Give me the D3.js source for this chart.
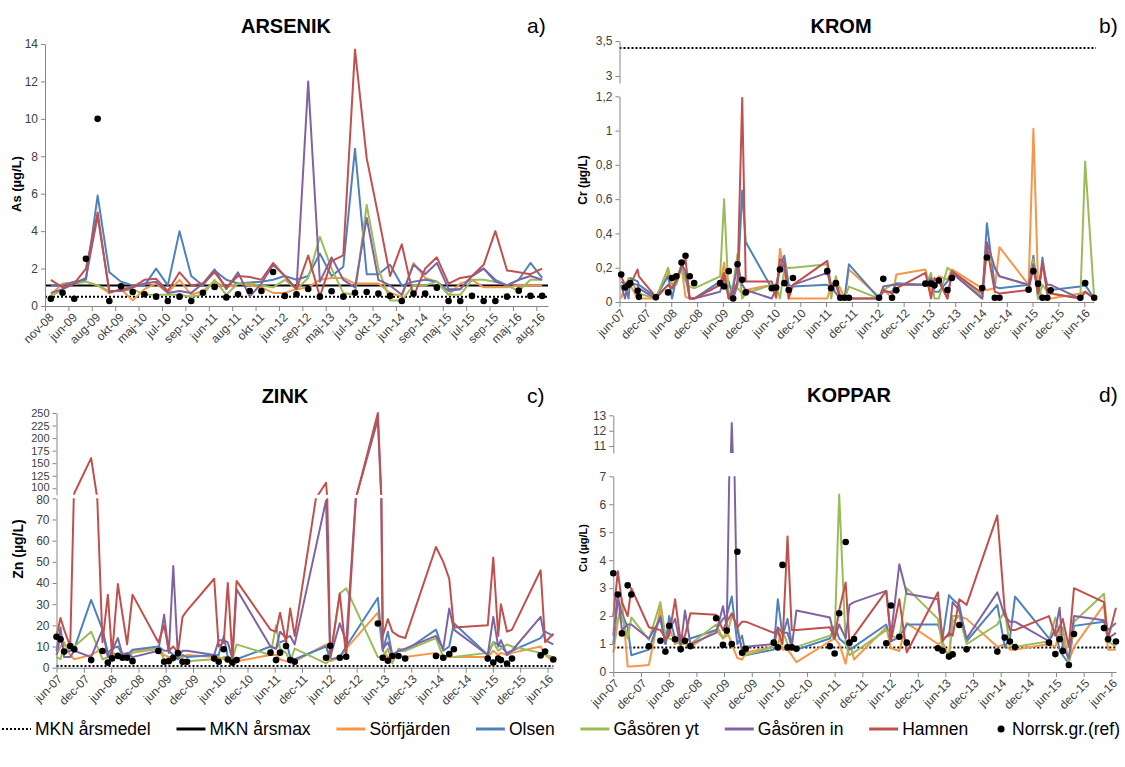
<!DOCTYPE html>
<html>
<head>
<meta charset="utf-8">
<script src="https://cdn.jsdelivr.net/npm/d3@7"></script>
<style>
  body { margin: 0; background: #fff; }
  text { font-family: 'Liberation Sans Narrow', 'Liberation Sans', Arial, sans-serif; }
</style>
</head>
<body>
<svg id="chart" width="1125" height="767"></svg>
<script>
// ---- shared ----
var seriesNames = ["Sörfjärden", "Olsen", "Gåsören yt", "Gåsören in", "Hamnen"];
var seriesColors = ["#F79646", "#4F81BD", "#9BBB59", "#8064A2", "#C0504D"];
var refName = "Norrsk.gr.(ref)";
var mknNames = ["MKN årsmedel", "MKN årsmax"];
var monthNames = ["jan", "feb", "mar", "apr", "maj", "jun", "jul", "aug", "sep", "okt", "nov", "dec"];

// ---- a) ARSENIK (category axis) ----
var asLabels = ["nov-08", "jun-09", "aug-09", "okt-09", "maj-10", "jul-10", "sep-10", "jun-11", "aug-11", "okt-11", "jun-12",
  "sep-12", "maj-13", "jul-13", "okt-13", "jun-14", "sep-14", "maj-15", "jul-15", "sep-15", "maj-16", "aug-16"];
var asSorfjarden = [0.6, 1.2, 1.25, 1.3, 1.1, 0.7, 0.9, 0.3, 0.9, 1.2, 0.7, 1.4, 0.6, 0.8, 1.3, 1.0, 1.2, 1.1, 1.0, 0.7, 0.7, 0.9,
  1.0, 1.4, 1.5, 1.5, 1.2, 1.2, 1.2, 0.7, 0.5, 2.3, 1.5, 1.3, 0.6, 1.2, 1.4, 1.0, 1.0, 1.0, 1.1, 1.1, 1.1];
var asOlsen = [1.1, 1.1, 1.3, 1.4, 5.9, 1.8, 1.3, 1.1, 1.1, 2.0, 1.1, 4.0, 1.6, 1.1, 1.9, 1.4, 1.2, 1.25, 1.3, 1.4, 1.6, 1.4,
  1.6, 2.8, 1.6, 2.1, 8.4, 1.7, 1.7, 2.2, 1.1, 1.3, 1.4, 1.3, 0.8, 0.9, 1.6, 2.0, 1.4, 1.1, 1.4, 2.3, 1.5];
var asGasorenYt = [0.5, 0.9, 1.2, 1.3, 1.1, 0.8, 0.8, 0.9, 0.6, 0.6, 0.6, 0.6, 0.5, 0.6, 1.4, 0.6, 1.2, 1.2, 1.1, 1.0, 1.4, 0.9,
  1.5, 3.7, 2.0, 0.7, 0.6, 5.4, 2.0, 0.3, 0.3, 1.1, 1.1, 1.3, 0.6, 0.6, 1.4, 1.4, 1.3, 1.1, 0.8, 1.4, 1.4];
var asGasorenIn = [0.7, 0.9, 1.2, 1.5, 4.8, 0.8, 0.8, 1.0, 1.2, 1.3, 0.7, 0.8, 0.7, 1.2, 1.95, 0.9, 1.8, 0.5, 1.2, 2.2, 1.6, 0.9,
  12.0, 1.3, 2.6, 1.4, 1.0, 4.7, 1.4, 1.1, 0.6, 2.2, 1.7, 2.3, 0.9, 0.9, 1.6, 2.0, 1.3, 1.1, 1.4, 1.6, 1.4];
var asHamnen = [1.4, 1.0, 1.2, 2.0, 5.0, 0.7, 0.9, 1.0, 1.4, 1.45, 0.8, 1.8, 1.1, 1.2, 1.8, 1.0, 1.6, 1.55, 1.4, 2.3, 1.6, 0.9,
  2.7, 0.5, 2.4, 2.7, 13.7, 7.9, 4.8, 1.6, 3.3, 0.5, 2.0, 2.6, 1.2, 1.5, 1.6, 2.2, 4.0, 1.9, 1.8, 1.7, 2.0];
var asNorrsk = [0.39, 0.71, 0.39, 2.52, 10.0, 0.27, 1.05, 0.75, 0.63, 0.5, 0.27, 0.5, 0.27, 0.71, 1.02, 0.46, 0.63, 0.8, 0.8, 1.82,
  0.54, 0.63, 0.91, 0.5, 0.79, 0.5, 0.71, 0.75, 0.66, 0.54, 0.27, 0.66, 0.66, 0.98, 0.27, 0.27, 0.54, 0.27, 0.27, 0.5, 0.82, 0.54, 0.54];
var asMknMedel = 0.5, asMknMax = 1.1;
var asTicks = [0, 2, 4, 6, 8, 10, 12, 14];

// ---- b) KROM ----
var crDates = ["2007-06-13", "2007-07-10", "2007-08-04", "2007-08-16", "2007-10-07", "2007-10-16", "2008-02-13", "2008-05-10",
  "2008-06-07", "2008-07-07", "2008-08-13", "2008-09-10", "2008-10-10", "2008-11-10", "2009-05-13", "2009-06-10", "2009-07-13",
  "2009-08-13", "2009-09-13", "2009-10-16", "2009-11-10", "2010-05-13", "2010-06-13", "2010-07-10", "2010-08-10", "2010-09-10",
  "2010-10-10", "2011-06-10", "2011-07-07", "2011-08-10", "2011-09-10", "2011-10-10", "2011-11-10", "2012-06-10", "2012-07-10",
  "2012-09-10", "2012-10-10", "2013-05-04", "2013-06-13", "2013-07-07", "2013-08-07", "2013-10-07", "2013-11-07", "2014-06-10",
  "2014-07-13", "2014-09-07", "2014-10-10", "2015-05-04", "2015-06-07", "2015-07-10", "2015-08-10", "2015-09-13", "2015-10-07",
  "2016-05-04", "2016-06-07", "2016-08-10"];
var crSorfjarden = [0.02, 0.1, 0.13, 0.1, 0.02, 0.02, 0.02, 0.17, 0.1, 0.12, 0.2, 0.03, 0.02, 0.02, 0.1, 0.23, 0.03, 0.1, 0.08, 0.05,
  0.07, 0.1, 0.02, 0.31, 0.18, 0.02, 0.02, 0.02, 0.1, 0.12, 0.08, 0.02, 0.19, 0.03, 0.08, 0.02, 0.16, 0.19, 0.05, 0.12,
  0.15, 0.13, 0.19, 0.08, 0.07, 0.08, 0.32, 0.1, 1.01, 0.1, 0.02, 0.02, 0.02, 0.05, 0.06, 0.02];
var crOlsen = [0.12, 0.1, 0.02, 0.14, 0.12, 0.1, 0.03, 0.15, 0.02, 0.14, 0.2, 0.15, 0.02, 0.02, 0.12, 0.1, 0.12, 0.02, 0.1, 0.65,
  0.35, 0.08, 0.1, 0.2, 0.27, 0.1, 0.09, 0.1, 0.08, 0.1, 0.02, 0.02, 0.22, 0.02, 0.06, 0.06, 0.11, 0.1, 0.13, 0.06,
  0.06, 0.12, 0.17, 0.02, 0.46, 0.09, 0.08, 0.1, 0.27, 0.02, 0.26, 0.06, 0.07, 0.09, 0.1, 0.02];
var crGasorenYt = [0.08, 0.08, 0.14, 0.13, 0.06, 0.05, 0.02, 0.2, 0.1, 0.1, 0.2, 0.12, 0.09, 0.08, 0.15, 0.6, 0.02, 0.1, 0.28, 0.02,
  0.05, 0.1, 0.1, 0.02, 0.19, 0.2, 0.2, 0.22, 0.02, 0.15, 0.03, 0.02, 0.09, 0.02, 0.07, 0.1, 0.1, 0.1, 0.17, 0.02,
  0.02, 0.2, 0.18, 0.03, 0.3, 0.2, 0.15, 0.1, 0.25, 0.02, 0.1, 0.06, 0.05, 0.02, 0.82, 0.02];
var crGasorenIn = [0.1, 0.02, 0.12, 0.11, 0.1, 0.08, 0.02, 0.1, 0.08, 0.12, 0.22, 0.18, 0.02, 0.02, 0.06, 0.15, 0.02, 0.08, 0.22, 0.1,
  0.07, 0.02, 0.08, 0.2, 0.22, 0.05, 0.1, 0.17, 0.1, 0.05, 0.02, 0.02, 0.02, 0.02, 0.09, 0.1, 0.1, 0.1, 0.14, 0.08,
  0.14, 0.02, 0.17, 0.02, 0.35, 0.2, 0.15, 0.1, 0.22, 0.05, 0.22, 0.1, 0.1, 0.02, 0.06, 0.02];
var crHamnen = [0.15, 0.1, 0.1, 0.1, 0.19, 0.15, 0.03, 0.1, 0.08, 0.13, 0.2, 0.25, 0.02, 0.02, 0.1, 0.17, 0.02, 0.05, 0.12, 1.19,
  0.12, 0.12, 0.03, 0.25, 0.23, 0.02, 0.1, 0.24, 0.08, 0.12, 0.02, 0.02, 0.02, 0.02, 0.07, 0.05, 0.08, 0.17, 0.02, 0.14,
  0.12, 0.02, 0.18, 0.05, 0.32, 0.06, 0.05, 0.07, 0.2, 0.05, 0.23, 0.05, 0.05, 0.02, 0.06, 0.02];
var crNorrsk = [0.16, 0.085, 0.1, 0.11, 0.065, 0.03, 0.027, 0.056, 0.14, 0.15, 0.23, 0.27, 0.15, 0.11, 0.11, 0.09, 0.18, 0.02, 0.22, 0.13,
  0.056, 0.08, 0.085, 0.19, 0.11, 0.07, 0.14, 0.18, 0.08, 0.11, 0.025, 0.025, 0.025, 0.025, 0.135, 0.025, 0.068, 0.107, 0.107, 0.097,
  0.125, 0.07, 0.14, 0.082, 0.26, 0.025, 0.025, 0.072, 0.18, 0.107, 0.025, 0.025, 0.068, 0.025, 0.11, 0.025];
var crMknMedel = 3.4;
var crTicksLow = [0, 0.2, 0.4, 0.6, 0.8, 1, 1.2];
var crTicksHigh = [3, 3.5];

// ---- c) ZINK ----
var znDates = ["2007-06-01", "2007-06-28", "2007-07-22", "2007-09-01", "2007-09-28", "2008-01-19", "2008-04-04", "2008-05-10",
  "2008-06-07", "2008-07-16", "2008-08-16", "2008-09-16", "2008-10-22", "2009-04-13", "2009-05-22", "2009-06-22", "2009-07-22",
  "2009-08-22", "2009-09-22", "2009-10-22", "2010-04-22", "2010-05-22", "2010-06-25", "2010-07-22", "2010-08-22", "2010-09-19",
  "2011-05-04", "2011-06-10", "2011-07-07", "2011-08-16", "2011-09-13", "2011-10-13", "2012-05-10", "2012-06-07", "2012-08-10",
  "2012-09-22", "2013-04-22", "2013-05-25", "2013-06-28", "2013-07-28", "2013-09-07", "2013-10-22", "2014-05-16", "2014-07-04",
  "2014-08-13", "2014-09-13", "2015-04-28", "2015-06-04", "2015-07-07", "2015-07-25", "2015-09-04", "2015-10-07", "2016-04-16",
  "2016-05-16", "2016-07-10"];
var znSorfjarden = [6, 10, 12, 6, 4, 6, 9, 6, 7, 6, 7, 6, 8, 9, 6, 5, 5, 5, 5, 6, 5, 5, 4, 3, 3, 3, 6, 6, 4, 3, 3, 3, 11, 3, 5, 9,
  26, 8, 5, 5, 6, 5, 7, 5, 5, 5, 5, 8, 6, 7, 6, 7, 10, 6, 3];
var znOlsen = [6, 15, 7, 8, 9, 32, 18, 7, 9, 10, 6, 6, 8.5, 10, 8, 8, 6, 4, 6, 5, 6, 6, 15, 5, 4, 4, 10, 9, 12, 13, 5, 4, 10, 4, 5, 10,
  33, 8, 17, 6, 8, 8, 18, 8, 10, 21, 6, 12, 11, 10, 7, 8, 14, 17, 15];
var znGasorenYt = [5, 4, 11, 9, 10, 17, 4, 5, 6, 7, 6, 5, 7, 9, 4, 3, 3, 8, 3, 3, 4, 4, 5, 5, 4, 11, 6, 20, 9, 7, 3, 9, 2, 4, 35, 37.5,
  5, 5, 9, 2, 9, 8, 14, 5, 6, 5, 7, 12, 8, 9, 11, 10, 7, 6, 5];
var znGasorenIn = [8, 19, 5, 5, 8, 5, 18, 5, 8, 14, 6, 7, 5, 8, 25, 7, 48, 5, 8, 8, 6, 13, 13, 12, 4, 37, 10, 9, 17, 14, 15, 11, 79, 5,
  21, 12, 237, 9, 12, 6, 8, 9, 15, 9, 28, 18, 6, 24, 10, 13, 6, 8, 24, 13, 11];
var znHamnen = [15, 23.5, 18, 10, 90, 160, 12, 34.5, 6, 39.5, 25, 11, 34.5, 12, 20, 8, 10, 7, 24, 27, 42, 10, 12, 40, 5, 41, 18, 17,
  26, 12, 28, 15, 111, 5, 35, 5, 250, 15, 23, 17, 15, 14, 57, 50, 42, 19, 20, 52, 15, 30, 17, 18, 46, 12, 16];
var znNorrsk = [14.6, 13.4, 7.6, 10.2, 8.7, 3.6, 7.9, 2.4, 4.4, 5.5, 4.7, 4.7, 3.1, 7.9, 2.8, 3.1, 4.7, 6.9, 2.8, 2.8, 4.3, 2.8, 8.7,
  3.9, 2.4, 3.6, 7.1, 3.6, 7.1, 10.2, 3.6, 2.8, 4.7, 10.4, 4.7, 5.2, 20.9, 4.7, 3.3, 5.5, 5.5, 4.3, 5.5, 4.7, 6.5, 8.7, 4.3, 2.4,
  4.3, 3.6, 2.0, 4.3, 5.8, 7.6, 3.9];
var znMknMedel = 0.8;
var znTicksLow = [0, 10, 20, 30, 40, 50, 60, 70, 80];
var znTicksHigh = [100, 125, 150, 175, 200, 225, 250];

// ---- d) KOPPAR ----
var cuDates = ["2007-06-01", "2007-07-01", "2007-07-28", "2007-09-04", "2007-09-28", "2008-01-22", "2008-04-07", "2008-05-10",
  "2008-06-04", "2008-07-13", "2008-08-19", "2008-09-16", "2008-10-22", "2009-04-10", "2009-05-25", "2009-06-19", "2009-07-22",
  "2009-08-28", "2009-09-28", "2009-10-22", "2010-04-25", "2010-05-22", "2010-06-22", "2010-07-25", "2010-08-22", "2010-09-22",
  "2011-05-01", "2011-06-01", "2011-07-01", "2011-08-13", "2011-09-07", "2011-10-07", "2012-05-07", "2012-06-07", "2012-08-01",
  "2012-09-19", "2013-04-13", "2013-05-13", "2013-06-25", "2013-07-19", "2013-09-01", "2013-10-19", "2014-05-10", "2014-06-28",
  "2014-08-01", "2014-09-04", "2015-04-16", "2015-05-28", "2015-06-25", "2015-07-16", "2015-08-25", "2015-09-28", "2016-04-13",
  "2016-05-10", "2016-07-01"];
var cuSorfjarden = [0.7, 1.8, 2.6, 0.2, 0.2, 0.25, 2.3, 1.1, 1.6, 1.0, 1.1, 1.0, 0.9, 1.5, 1.2, 1.5, 1.0, 0.5, 0.45, 0.7, 0.9, 1.5,
  0.8, 0.8, 0.6, 0.35, 1.1, 1.2, 1.0, 0.3, 1.1, 0.45, 1.6, 0.85, 0.75, 1.75, 1.0, 1.1, 0.5, 1.8, 2.0, 1.9, 0.9, 1.0, 0.8, 0.8,
  1.0, 0.9, 1.4, 1.2, 0.4, 0.9, 2.4, 0.8, 0.8];
var cuOlsen = [1.0, 2.6, 2.1, 1.6, 0.6, 0.8, 2.0, 1.0, 2.0, 1.2, 1.0, 1.1, 1.2, 1.5, 1.9, 2.0, 2.7, 1.0, 1.3, 0.6, 0.8, 2.6, 1.3,
  1.9, 1.0, 0.8, 1.2, 1.65, 1.2, 1.0, 0.8, 0.9, 1.7, 1.1, 1.25, 1.7, 1.7, 1.2, 2.75, 2.6, 2.4, 1.1, 2.4, 0.9, 1.2, 2.7, 1.2, 1.5,
  0.8, 0.6, 0.3, 1.65, 1.8, 1.5, 1.75];
var cuGasorenYt = [1.5, 1.9, 2.0, 1.2, 1.95, 1.15, 2.5, 1.3, 1.2, 1.1, 1.0, 1.0, 1.0, 1.7, 1.2, 1.3, 2.0, 1.7, 0.7, 0.6, 0.9, 1.0,
  1.5, 1.0, 0.9, 0.9, 1.3, 1.2, 6.35, 1.0, 0.6, 0.7, 1.5, 1.3, 1.2, 3.0, 1.9, 0.9, 0.6, 2.0, 2.0, 1.0, 1.7, 2.2, 0.9, 0.9, 1.1,
  1.95, 1.4, 1.6, 0.3, 1.8, 2.8, 1.1, 0.9];
var cuGasorenIn = [1.3, 2.8, 1.5, 1.7, 1.7, 1.2, 1.9, 1.0, 1.5, 1.9, 0.9, 2.2, 1.0, 1.4, 2.35, 1.6, 12.5, 1.5, 0.8, 0.9, 1.0, 1.6,
  1.4, 1.4, 0.9, 2.2, 1.95, 1.2, 1.7, 1.2, 2.4, 2.5, 2.9, 1.3, 3.85, 2.8, 2.6, 1.2, 1.3, 2.5, 2.2, 1.2, 2.85, 2.0, 1.8, 1.8, 1.1,
  1.5, 2.3, 0.9, 0.5, 2.0, 1.85, 1.2, 1.4];
var cuHamnen = [2.0, 3.6, 2.5, 2.0, 3.0, 1.6, 1.5, 1.2, 1.3, 2.6, 1.1, 1.3, 2.1, 2.05, 1.5, 1.8, 2.1, 1.6, 1.8, 1.8, 1.4, 1.5, 1.0,
  4.85, 1.5, 1.5, 1.6, 1.2, 2.2, 3.2, 1.0, 1.3, 2.9, 1.1, 2.6, 0.7, 2.85, 1.1, 1.4, 1.3, 2.6, 2.4, 5.6, 2.2, 1.5, 1.5, 2.0, 1.3,
  1.6, 1.9, 0.9, 3.0, 2.5, 1.2, 2.3];
var cuNorrsk = [3.53, 2.77, 1.38, 3.1, 2.77, 0.92, 1.12, 0.73, 1.65, 1.17, 0.81, 1.12, 0.92, 1.92, 0.97, 1.48, 1.0, 4.3, 0.69, 0.83,
  1.05, 0.88, 3.83, 0.88, 0.88, 0.83, 0.92, 0.66, 2.1, 4.65, 1.05, 1.18, 1.03, 2.38, 1.26, 1.05, 0.85, 0.76, 0.55, 0.63, 1.68, 0.81,
  0.73, 1.23, 1.09, 0.89, 1.05, 0.64, 1.17, 0.75, 0.25, 1.36, 1.57, 1.17, 1.09];
var cuMknMedel = 0.88;
var cuTicksLow = [0, 1, 2, 3, 4, 5, 6, 7];
var cuTicksHigh = [11, 12, 13];

// ---- drawing ----
const svg = d3.select('#chart');
const defs = svg.append('defs');
const parse = d3.timeParse('%Y-%m-%d');
const fmtNum = d => String(d).replace('.', ',');
const fmtDate = d => monthNames[d.getMonth()] + '-' + String(d.getFullYear()).slice(2);
const axisColor = '#868686';
const labelColor = '#404040';

function styleAxis(sel) {
  sel.attr('font-family', null).attr('font-size', null);
  sel.select('.domain').attr('stroke', axisColor).attr('stroke-width', 1);
  sel.selectAll('.tick line').attr('stroke', axisColor);
  sel.selectAll('.tick text').attr('fill', labelColor).style('font-size', '12px');
}

function drawPanel(p) {
  const g = svg.append('g');
  const left = p.x.range()[0], right = p.x.range()[1];
  const bottom = p.segs[0].y.range()[0];
  const last = p.segs.length - 1;

  p.segs.forEach((s, si) => {
    const lo = s.y.range()[0], hi = s.y.range()[1];
    const padB = si === 0 ? 3 : 0, padT = si === last ? 3 : 0;
    const cid = p.id + '-clip' + si;
    defs.append('clipPath').attr('id', cid).append('rect')
      .attr('x', left - 3).attr('y', hi - padT)
      .attr('width', right - left + 6).attr('height', lo - hi + padB + padT);
    const cg = g.append('g').attr('clip-path', 'url(#' + cid + ')');

    // MKN reference lines
    p.mkn.forEach(m => {
      const dom = s.y.domain();
      if (m.value < dom[0] || m.value > dom[1]) return;
      cg.append('line')
        .attr('x1', left).attr('x2', p.mknEnd || right)
        .attr('y1', s.y(m.value)).attr('y2', s.y(m.value))
        .attr('stroke', '#000').attr('stroke-width', 2)
        .attr('stroke-dasharray', m.dotted ? '2,2' : null);
    });

    // station lines
    p.series.forEach((vals, k) => {
      cg.append('path').datum(vals)
        .attr('d', d3.line().x((d, i) => p.xs[i]).y(d => s.y(d)))
        .attr('fill', 'none')
        .attr('stroke', seriesColors[k])
        .attr('stroke-width', 2)
        .attr('stroke-linejoin', 'round');
    });

    const ya = g.append('g').attr('transform', 'translate(' + left + ',0)')
      .call(d3.axisLeft(s.y).tickValues(s.ticks).tickFormat(fmtNum).tickSize(4).tickSizeOuter(0))
      .call(styleAxis);
    // nudge labels that sit right at the break so they do not collide
    if (s.nudge) {
      ya.selectAll('.tick text').filter(d => d === s.nudge.value)
        .attr('dy', (0.32 + s.nudge.dy / 12) + 'em');
    }
    if (s.fontSize) ya.selectAll('.tick text').style('font-size', s.fontSize + 'px');
  });

  // reference station dots
  p.ref.forEach((v, i) => {
    const s = p.segs.find(s => v >= s.y.domain()[0] && v <= s.y.domain()[1]);
    if (!s) return;
    g.append('circle').attr('cx', p.xs[i]).attr('cy', s.y(v)).attr('r', 3.3).attr('fill', '#000');
  });

  // x axis
  const xa = g.append('g').attr('transform', 'translate(0,' + bottom + ')')
    .call(d3.axisBottom(p.x).tickValues(p.xTicks).tickFormat(p.xFmt).tickSize(5).tickSizeOuter(0))
    .call(styleAxis);
  xa.selectAll('.tick text')
    .attr('x', null).attr('y', null).attr('dy', '0.35em')
    .attr('text-anchor', 'end')
    .attr('transform', 'translate(' + p.labelDx + ',9) rotate(-45)');

  // titles
  g.append('text').attr('x', p.titleX).attr('y', p.titleY).attr('text-anchor', 'middle')
    .style('font-family', "'Liberation Sans', Arial, sans-serif")
    .style('font-weight', 'bold').style('font-size', '20px').text(p.title);
  g.append('text').attr('x', p.letterX).attr('y', p.titleY)
    .style('font-family', "'Liberation Sans', Arial, sans-serif")
    .style('font-size', '21px').text(p.letter);
  g.append('text')
    .attr('transform', 'translate(' + p.yTitleX + ',' + p.yTitleY + ') rotate(-90)')
    .attr('text-anchor', 'middle')
    .style('font-weight', 'bold').style('font-size', p.yTitleSize + 'px')
    .text(p.yTitle);
}

function timeX(dates, x0, xJun16) {
  const start = new Date(2007, 5, 1), jun16 = new Date(2016, 5, 1);
  const base = d3.scaleTime().domain([start, jun16]).range([x0, xJun16]);
  const end = dates[dates.length - 1];
  return d3.scaleTime().domain([start, end]).range([x0, base(end)]);
}
const halfYearTicks = d3.timeMonth.range(new Date(2007, 5, 1), new Date(2016, 5, 2), 6);

// a) ARSENIK
const asX = d3.scaleLinear().domain([0, asNorrsk.length]).range([45, 548]);
drawPanel({
  id: 'as', x: asX,
  xs: asNorrsk.map((d, i) => asX(i + 0.5)),
  xTicks: d3.range(0, asNorrsk.length, 2),
  xFmt: d => asLabels[d / 2],
  labelDx: 6,
  segs: [{ y: d3.scaleLinear().domain([0, 14]).range([306, 44]), ticks: asTicks }],
  series: [asSorfjarden, asOlsen, asGasorenYt, asGasorenIn, asHamnen],
  ref: asNorrsk,
  mkn: [{ value: asMknMedel, dotted: true }, { value: asMknMax, dotted: false }],
  title: 'ARSENIK', titleX: 286, titleY: 33, letter: 'a)', letterX: 527,
  yTitle: 'As (µg/L)', yTitleX: 21, yTitleY: 184, yTitleSize: 13
});

// b) KROM
const crD = crDates.map(parse);
const crX = timeX(crD, 619.5, 1084.3);
drawPanel({
  id: 'cr', x: crX,
  xs: crD.map(d => crX(d)),
  xTicks: halfYearTicks, xFmt: fmtDate, labelDx: 3,
  segs: [
    { y: d3.scaleLinear().domain([0, 1.2]).range([302, 96.3]), ticks: crTicksLow },
    { y: d3.scaleLinear().domain([2.9, 3.5]).range([83, 41]), ticks: crTicksHigh }
  ],
  series: [crSorfjarden, crOlsen, crGasorenYt, crGasorenIn, crHamnen],
  ref: crNorrsk,
  mkn: [{ value: crMknMedel, dotted: true }],
  mknEnd: 1096,
  title: 'KROM', titleX: 841, titleY: 33, letter: 'b)', letterX: 1099,
  yTitleX: 587, yTitleY: 180, yTitle: 'Cr (µg/L)', yTitleSize: 12
});

// c) ZINK
const znD = znDates.map(parse);
const znX = timeX(znD, 56.5, 547.5);
drawPanel({
  id: 'zn', x: znX,
  xs: znD.map(d => znX(d)),
  xTicks: halfYearTicks, xFmt: fmtDate, labelDx: 3,
  segs: [
    { y: d3.scaleLinear().domain([0, 80]).range([667.7, 498.3]), ticks: znTicksLow, nudge: { value: 80, dy: 1.8 } },
    { y: d3.scaleLinear().domain([87, 250]).range([494.8, 413]), ticks: znTicksHigh, nudge: { value: 100, dy: -1.8 }, fontSize: 11 }
  ],
  series: [znSorfjarden, znOlsen, znGasorenYt, znGasorenIn, znHamnen],
  ref: znNorrsk,
  mkn: [{ value: znMknMedel, dotted: true }],
  title: 'ZINK', titleX: 285, titleY: 403, letter: 'c)', letterX: 527,
  yTitleX: 23, yTitleY: 549, yTitle: 'Zn (µg/L)', yTitleSize: 14
});

// d) KOPPAR
const cuD = cuDates.map(parse);
const cuX = timeX(cuD, 613.3, 1111.4);
drawPanel({
  id: 'cu', x: cuX,
  xs: cuD.map(d => cuX(d)),
  xTicks: halfYearTicks, xFmt: fmtDate, labelDx: 3,
  segs: [
    { y: d3.scaleLinear().domain([0, 7]).range([672, 476.3]), ticks: cuTicksLow },
    { y: d3.scaleLinear().domain([10.55, 13]).range([453, 415.3]), ticks: cuTicksHigh }
  ],
  series: [cuSorfjarden, cuOlsen, cuGasorenYt, cuGasorenIn, cuHamnen],
  ref: cuNorrsk,
  mkn: [{ value: cuMknMedel, dotted: true }],
  title: 'KOPPAR', titleX: 849, titleY: 402, letter: 'd)', letterX: 1099,
  yTitleX: 587, yTitleY: 548, yTitle: 'Cu (µg/L)', yTitleSize: 11
});

// ---- legend ----
const legendNames = mknNames.concat(seriesNames, [refName]);
const legendKinds = ['dotted', 'solid', 0, 1, 2, 3, 4, 'dot'];
const lg = svg.append('g').attr('transform', 'translate(0,729)');
const items = legendNames.map((name, i) => {
  const it = lg.append('g');
  const kind = legendKinds[i];
  const sw = kind === 'dot' ? 14 : 29;
  if (kind === 'dot') {
    it.append('circle').attr('cx', 7).attr('cy', 0).attr('r', 3.5).attr('fill', '#000');
  } else {
    it.append('line').attr('x1', 0).attr('x2', sw).attr('y1', 0).attr('y2', 0)
      .attr('stroke', typeof kind === 'number' ? seriesColors[kind] : '#000')
      .attr('stroke-width', kind === 'dotted' ? 2 : 3)
      .attr('stroke-dasharray', kind === 'dotted' ? '2,2' : null);
  }
  const t = it.append('text').attr('x', sw + 4).attr('y', 0).attr('dy', '0.35em')
    .style('font-size', '17.5px').attr('fill', '#000').text(name);
  return { g: it, w: sw + 4 + t.node().getComputedTextLength() };
});
const totalW = d3.sum(items, d => d.w);
const gap = (1120 - 2 - totalW) / (items.length - 1);
let cx = 2;
items.forEach(d => { d.g.attr('transform', 'translate(' + cx + ',0)'); cx += d.w + gap; });
</script>
</body>
</html>
